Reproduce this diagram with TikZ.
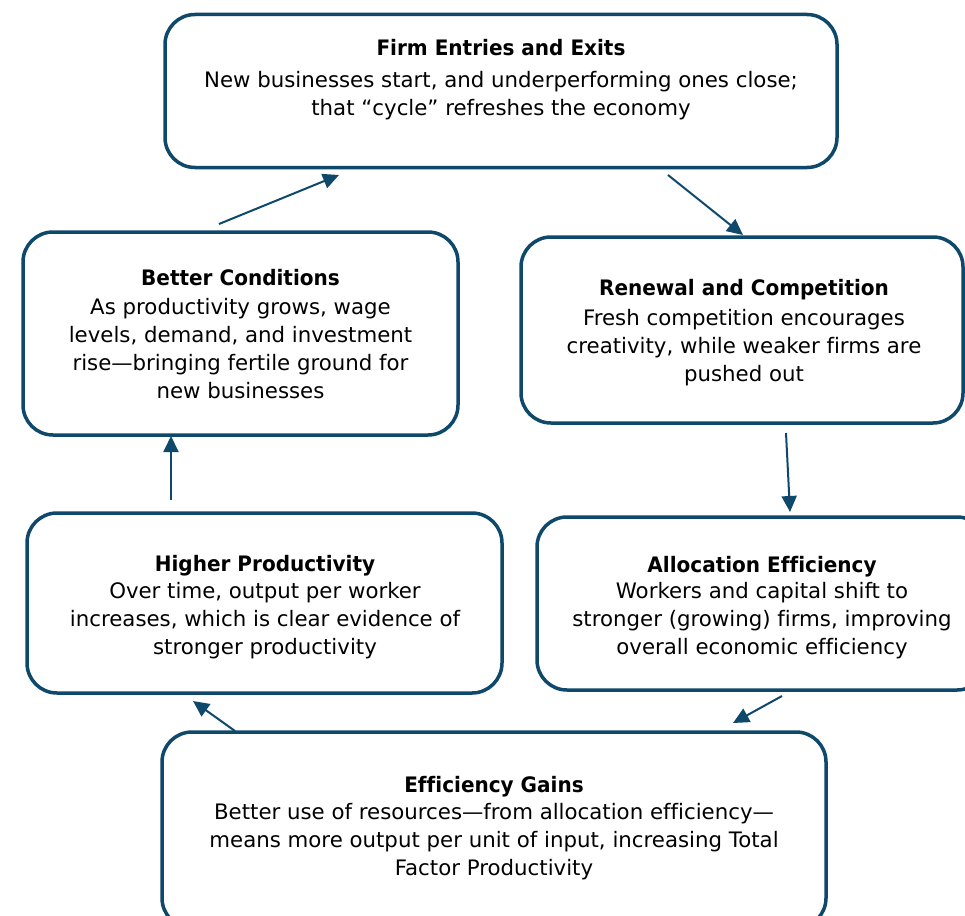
\documentclass[tikz,border=0pt]{standalone}
\usepackage{fontspec}
\setmainfont{DejaVu Sans}[Ligatures=NoCommon, BoldFeatures={FakeStretch=0.94}]
\usetikzlibrary{arrows.meta}
\definecolor{frame}{RGB}{14,72,106}
\begin{document}
\begin{tikzpicture}[x=1pt,y=-1pt,
  box/.style={draw=frame, line width=3.5pt, rounded corners=30pt, inner sep=0pt, fill=white},
  txt/.style={align=center, inner sep=0pt, anchor=north, text=black,
    font=\fontsize{21.3pt}{28pt}\selectfont},
  arr/.style={draw=frame, line width=2pt, -{Triangle[length=16pt,width=15pt]}}]
\useasboundingbox (0,0) rectangle (965,915);
\fill[white] (0,0) rectangle (965,915);
\clip (0,0) rectangle (965,915);

% boxes
\node[box, minimum width=672pt, minimum height=153pt] (top) at (501,91) {};
\node[box, minimum width=435pt, minimum height=203pt] (better) at (240.5,333.5) {};
\node[box, minimum width=442pt, minimum height=186pt] (renew) at (742,330) {};
\node[box, minimum width=475pt, minimum height=180pt] (higher) at (264.5,603) {};
\node[box, minimum width=450pt, minimum height=173pt] (alloc) at (762,603.5) {};
\node[box, minimum width=664pt, minimum height=196pt] (eff) at (494,830) {};

% texts
\node[txt] (topt) at (501,38.8) {\textbf{Firm Entries and Exits}\\[4pt]
  New businesses start, and underperforming ones close;\\
  that “cycle” refreshes the economy};
\node[txt] (bettert) at (240.5,268.8) {\textbf{Better Conditions}\\[1pt]
  As productivity grows, wage\\
  levels, demand, and investment\\
  rise—bringing fertile ground for\\
  new businesses};
\node[txt] (renewt) at (744,278.8) {\textbf{Renewal and Competition}\\[2pt]
  Fresh competition encourages\\
  creativity, while weaker firms are\\
  pushed out};
\node[txt] (highert) at (265,554.8) {\textbf{Higher Productivity}\\[-1pt]
  Over time, output per worker\\
  increases, which is clear evidence of\\
  stronger productivity};
\node[txt] (allocet) at (762,555.8) {\textbf{Allocation Efficiency}\\[-2pt]
  Workers and capital shift to\\
  stronger (growing) firms, improving\\
  overall economic efficiency};
\node[txt] (efft) at (494,775.8) {\textbf{Efficiency Gains}\\[-1pt]
  Better use of resources—from allocation efficiency—\\
  means more output per unit of input, increasing Total\\
  Factor Productivity};

% connector ends
\coordinate (a1s) at (219,224); \coordinate (a1e) at (339,175);
\coordinate (a2s) at (668,175); \coordinate (a2e) at (743,235);
\coordinate (a3s) at (786,433); \coordinate (a3e) at (790,512);
\coordinate (a4s) at (782,696); \coordinate (a4e) at (733,723);
\coordinate (a5s) at (235,731); \coordinate (a5e) at (193,701);
\coordinate (a6s) at (171,500); \coordinate (a6e) at (171,436);

\draw[arr] (a1s) -- (a1e);
\draw[arr] (a2s) -- (a2e);
\draw[arr] (a3s) -- (a3e);
\draw[arr] (a4s) -- (a4e);
\draw[arr] (a5s) -- (a5e);
\draw[arr] (a6s) -- (a6e);
\end{tikzpicture}
\end{document}
